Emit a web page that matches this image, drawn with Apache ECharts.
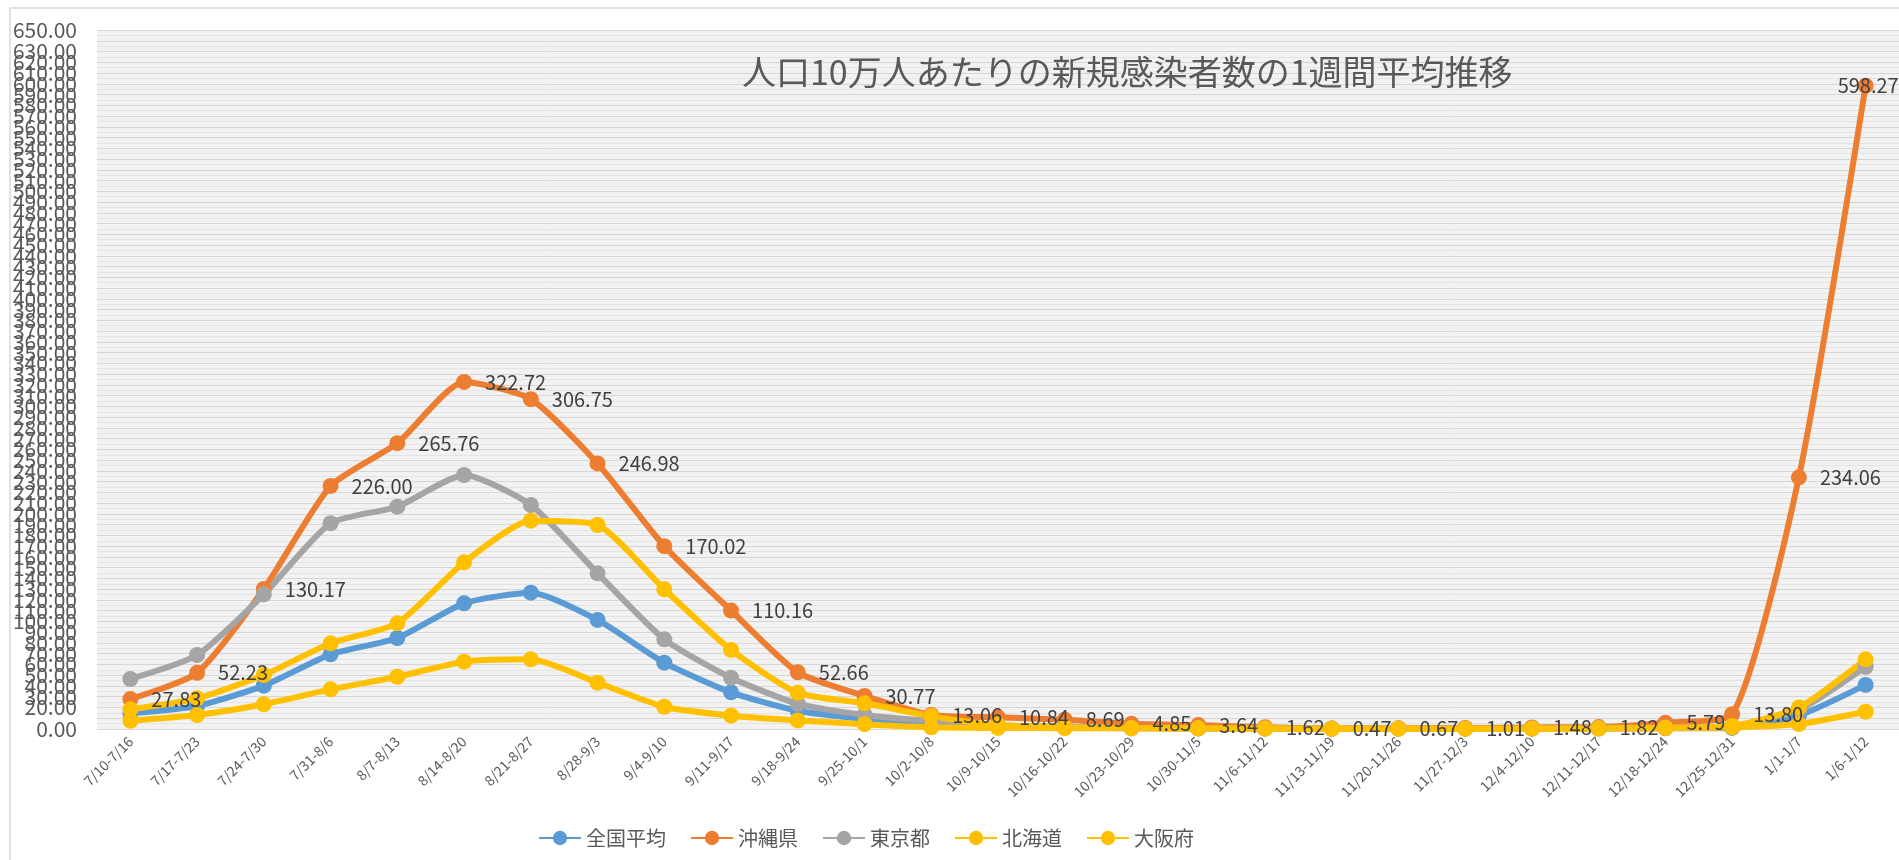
<!DOCTYPE html>
<html>
<head>
<meta charset="utf-8">
<script src="https://cdn.jsdelivr.net/npm/echarts@6/dist/echarts.min.js"></script>
<style>
  html, body { margin: 0; padding: 0; background: #fff; }
  #chart { width: 1899px; height: 860px; }
</style>
</head>
<body>
<div id="chart"></div>
<script>
// 週ごとの区間
var weeks = ['7/10-7/16', '7/17-7/23', '7/24-7/30', '7/31-8/6', '8/7-8/13', '8/14-8/20', '8/21-8/27',
    '8/28-9/3', '9/4-9/10', '9/11-9/17', '9/18-9/24', '9/25-10/1', '10/2-10/8', '10/9-10/15',
    '10/16-10/22', '10/23-10/29', '10/30-11/5', '11/6-11/12', '11/13-11/19', '11/20-11/26',
    '11/27-12/3', '12/4-12/10', '12/11-12/17', '12/18-12/24', '12/25-12/31', '1/1-1/7', '1/6-1/12'];

var zenkoku = [14.6, 21.4, 40.3, 69.4, 84.6, 116.9, 126.8, 101.4, 61.7, 34.1, 17.0, 9.5, 5.0, 2.5,
    1.3, 0.8, 0.5, 0.4, 0.3, 0.3, 0.3, 0.3, 0.4, 0.6, 1.0, 12.5, 41.0];
var okinawa = [27.83, 52.23, 130.17, 226.00, 265.76, 322.72, 306.75, 246.98, 170.02, 110.16, 52.66, 30.77,
    13.06, 10.84, 8.69, 4.85, 3.64, 1.62, 0.47, 0.67, 1.01, 1.48, 1.82, 5.79, 13.80, 234.06, 598.27];
var tokyo = [46.5, 68.8, 125.2, 191.3, 206.7, 236.2, 208.3, 144.8, 83.4, 47.7, 23.5, 13.0, 7.4, 3.5,
    1.8, 1.0, 0.6, 0.5, 0.4, 0.4, 0.5, 0.6, 1.0, 1.3, 2.5, 17.7, 57.9];
var hokkaido = [7.7, 13.0, 23.0, 36.9, 48.6, 62.6, 64.8, 43.1, 20.7, 12.4, 8.0, 4.5, 1.6, 1.0,
    0.8, 0.6, 0.5, 0.4, 0.3, 0.3, 0.3, 0.3, 0.4, 0.8, 1.5, 4.6, 16.1];
var osaka = [18.3, 28.5, 50.2, 79.7, 98.3, 155.0, 193.7, 189.7, 129.9, 73.5, 33.6, 23.9, 12.0, 3.7,
    1.6, 0.9, 0.6, 0.4, 0.3, 0.3, 0.3, 0.4, 0.6, 1.2, 2.8, 20.1, 64.8];

var yMax = 650;
var yStep = 10;

var font = "'Noto Sans CJK JP', 'Noto Sans', sans-serif";

function lineSeries(name, data, color, withLabel) {
    return {
        name: name,
        type: 'line',
        data: data,
        smooth: 0.2,
        symbol: 'circle',
        symbolSize: 16,
        lineStyle: { width: 6, color: color },
        itemStyle: { color: color },
        label: {
            show: withLabel,
            position: 'right',
            distance: 13,
            color: '#404040',
            fontSize: 20,
            fontFamily: font,
            formatter: function (p) { return p.value.toFixed(2); }
        }
    };
}

// 最後のラベルはグラフ端に収まるよう左へ寄せる
var okinawaData = okinawa.map(function (v, i) {
    if (i === okinawa.length - 1) {
        return { value: v, label: { distance: -36 } };
    }
    return v;
});

var chart = echarts.init(document.getElementById('chart'));
chart.setOption({
    animation: false,
    backgroundColor: '#ffffff',
    textStyle: { fontFamily: font },
    graphic: [{
        type: 'rect',
        shape: { x: 10, y: 8, width: 2000, height: 900 },
        style: { fill: 'none', stroke: '#d9d9d9', lineWidth: 1.5 },
        z: -1
    }],
    title: {
        text: '人口10万人あたりの新規感染者数の1週間平均推移',
        left: 737,
        top: 50,
        textStyle: { color: '#595959', fontSize: 34, fontWeight: 'normal', fontFamily: font }
    },
    legend: {
        left: 533,
        top: 823,
        itemWidth: 42,
        itemHeight: 18,
        itemGap: 24,
        textStyle: { color: '#595959', fontSize: 20, fontFamily: font },
        data: ['全国平均', '沖縄県', '東京都', '北海道', '大阪府']
    },
    grid: {
        left: 97,
        right: -5,
        top: 30,
        bottom: 131,
        show: true,
        backgroundColor: '#f2f2f2',
        borderWidth: 0
    },
    xAxis: {
        type: 'category',
        boundaryGap: true,
        data: weeks,
        axisLine: { lineStyle: { color: '#d9d9d9' } },
        axisTick: { show: false },
        axisLabel: {
            interval: 0,
            rotate: 45,
            margin: 10,
            color: '#595959',
            fontSize: 14,
            fontFamily: font
        }
    },
    yAxis: {
        type: 'value',
        min: 0,
        max: yMax,
        interval: yStep,
        axisLine: { show: false },
        axisTick: { show: false },
        axisLabel: {
            margin: 20,
            color: '#595959',
            fontSize: 21,
            fontFamily: font,
            showMinLabel: true,
            showMaxLabel: true,
            formatter: function (v) { return v.toFixed(2); }
        },
        splitLine: { lineStyle: { color: '#d6d6d6', width: 1 } },
        minorTick: { show: false, splitNumber: 2 },
        minorSplitLine: { show: true, lineStyle: { color: '#e4e4e4', width: 1 } }
    },
    series: [
        lineSeries('全国平均', zenkoku, '#5b9bd5', false),
        lineSeries('沖縄県', okinawaData, '#ed7d31', true),
        lineSeries('東京都', tokyo, '#a5a5a5', false),
        lineSeries('北海道', hokkaido, '#ffc000', false),
        lineSeries('大阪府', osaka, '#ffc000', false)
    ]
});
</script>
</body>
</html>
